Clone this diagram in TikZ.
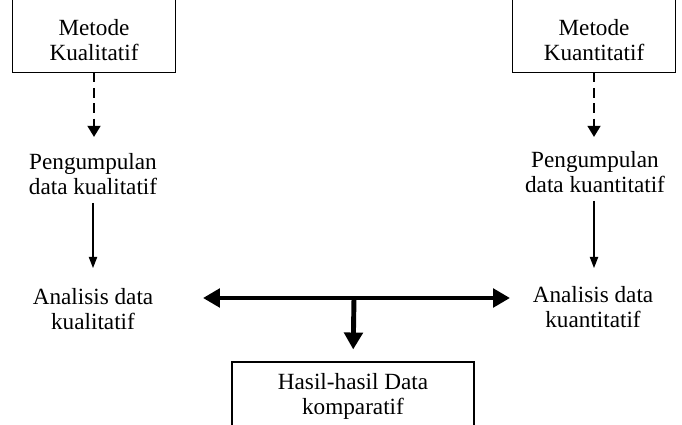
\documentclass[tikz,border=0pt]{standalone}
\usepackage{fontspec}
\setmainfont{Liberation Serif}
\usetikzlibrary{arrows.meta,positioning}

\begin{document}
\begin{tikzpicture}
  [x=0.025cm,y=-0.025cm,
   font=\fontsize{16.5}{17.8}\selectfont,
   topbox/.style={minimum width=4.075cm,minimum height=1.6cm,align=center,inner sep=0pt},
   resultbox/.style={draw,thick,minimum width=6.05cm,minimum height=1.7cm,align=center,inner sep=0pt},
   stage/.style={align=center,inner sep=0pt},
   dasharrow/.style={-{Triangle[width=9pt,length=8pt]},line width=2pt,dash pattern=on 7pt off 4pt},
   thinarrow/.style={-{Triangle[width=6pt,length=8pt]},line width=0.8pt},
   bigarrow/.style={{Triangle[width=13pt,length=12pt]}-{Triangle[width=13pt,length=12pt]},line width=3.5pt},
   downarrow/.style={-{Triangle[width=13pt,length=12pt]},line width=3.5pt}]
  \useasboundingbox (0,0) rectangle (682,425);
  \clip (0,0) rectangle (682,425);

  % methods
  \node (kual) [topbox] at (94,40) {Metode\\Kualitatif};
  \node (kuan) [topbox] at (594,40) {Metode\\Kuantitatif};
  \draw [thick] ([yshift=1cm]kual.north west) -- (kual.south west) -- (kual.south east) -- ([yshift=1cm]kual.north east);
  \draw [thick] ([yshift=1cm]kuan.north west) -- (kuan.south west) -- (kuan.south east) -- ([yshift=1cm]kuan.north east);

  % stages
  \node (kumpul1) [stage] at (93,174) {Pengumpulan\\data kualitatif};
  \node (kumpul2) [stage] at (595,172) {Pengumpulan\\data kuantitatif};
  \node (anal1) [stage] at (93,309) {Analisis data\\kualitatif};
  \node (anal2) [stage] at (593,307) {Analisis data\\kuantitatif};

  % result
  \node (hasil) [resultbox] at (353,396) {Hasil-hasil Data\\komparatif};

  \draw [dasharrow,shorten >=0.4cm] (kual.south) -- (kual.south |- kumpul1.north);
  \draw [dasharrow,shorten >=0.35cm] (kuan.south) -- (kuan.south |- kumpul2.north);
  \draw [thinarrow,shorten <=0.2cm,shorten >=0.5cm] (kumpul1.south) -- (anal1.north);
  \draw [thinarrow,shorten <=0.2cm,shorten >=0.45cm] (kumpul2.south -| kuan.south) -- (kuan.south |- anal2.north);

  \coordinate (hl) at (203,298);
  \coordinate (hr) at (510,298);
  \coordinate (mid) at (354,298);
  \draw [bigarrow] (hl) -- (hr);
  \draw [downarrow,shorten >=0.3cm] (mid) -- (hasil.north);
\end{tikzpicture}
\end{document}
